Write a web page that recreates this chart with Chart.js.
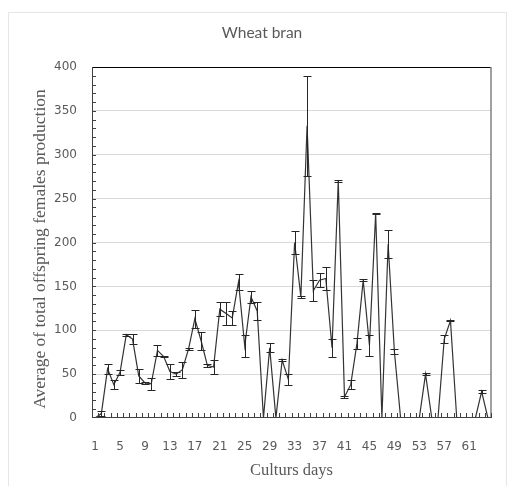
<!DOCTYPE html>
<html>
<head>
<meta charset="utf-8">
<script src="https://cdn.jsdelivr.net/npm/chart.js@4/dist/chart.umd.min.js"></script>
<style>
  html, body { margin: 0; padding: 0; background: #fff; }
</style>
</head>
<body>
<canvas id="chart" width="511" height="486"></canvas>
<script>
// culture days 1..64
const days = [1, 2, 3, 4, 5, 6, 7, 8, 9, 10, 11, 12, 13, 14, 15, 16,
  17, 18, 19, 20, 21, 22, 23, 24, 25, 26, 27, 28, 29, 30, 31, 32,
  33, 34, 35, 36, 37, 38, 39, 40, 41, 42, 43, 44, 45, 46, 47, 48,
  49, 50, 51, 52, 53, 54, 55, 56, 57, 58, 59, 60, 61, 62, 63, 64];

// mean offspring females per day
const offspring = [0, 5, 56, 38, 52, 95, 90, 48, 40, 39, 77, 70, 53, 50, 55, 79,
  113, 88, 60, 58, 124, 119, 114, 155, 82, 138, 122, 0, 80, 0, 66, 44,
  200, 138, 333, 145, 157, 159, 80, 270, 24, 38, 85, 157, 83, 233, 0, 198,
  76, 0, 0, 0, 0, 50, 0, 0, 90, 111, 0, 0, 0, 0, 30, 0];

// standard error (+/-)
const offspringErr = [0, 3, 6, 5, 3, 1, 6, 8, 1, 7, 6, 1, 9, 2, 9, 1,
  10, 10, 2, 8, 8, 13, 8, 9, 13, 7, 10, 0, 5, 0, 1, 6,
  13, 1, 57, 12, 8, 13, 10, 1, 1, 5, 6, 1, 12, 1, 0, 16,
  3, 0, 0, 0, 0, 1, 0, 0, 5, 1, 0, 0, 0, 0, 2, 0];

const xTickLabels = [1, 5, 9, 13, 17, 21, 25, 29, 33, 37, 41, 45, 49, 53, 57, 61];
const chartTitle = "Wheat bran";
const yTitle = "Average of total offspring females production";

// title, y title, outer box, axis frame and small tick marks (Excel style)
const frame = {
  id: "frame",
  beforeDraw(chart) {
    const ctx = chart.ctx;
    ctx.save();
    ctx.strokeStyle = "#e6e6e6";
    ctx.lineWidth = 1;
    ctx.strokeRect(8.5, 12.5, 498, 490);
    ctx.fillStyle = "#595959";
    ctx.font = "15.5px Lato";
    ctx.textAlign = "center";
    ctx.textBaseline = "middle";
    ctx.fillText(chartTitle, 262, 33);
    // rotated y axis title
    ctx.translate(40, 249);
    ctx.rotate(-Math.PI / 2);
    ctx.font = "17.5px 'Liberation Serif'";
    ctx.fillText(yTitle, 0, 0);
    ctx.restore();
  },
  afterDatasetsDraw(chart) {
    const { ctx, chartArea: a, scales: { x, y } } = chart;
    ctx.save();
    ctx.lineWidth = 1;
    // top border
    ctx.strokeStyle = "#000";
    ctx.beginPath();
    ctx.moveTo(a.left, Math.round(a.top) + 0.5);
    ctx.lineTo(a.right, Math.round(a.top) + 0.5);
    ctx.stroke();
    // right border
    ctx.strokeStyle = "#808080";
    ctx.lineWidth = 1.5;
    ctx.beginPath();
    ctx.moveTo(a.right, a.top);
    ctx.lineTo(a.right, a.bottom);
    ctx.stroke();
    // left and bottom axes
    ctx.strokeStyle = "#404040";
    ctx.lineWidth = 1;
    ctx.beginPath();
    ctx.moveTo(Math.round(a.left) + 0.5, a.top);
    ctx.lineTo(Math.round(a.left) + 0.5, a.bottom);
    ctx.moveTo(a.left, Math.round(a.bottom) - 0.5);
    ctx.lineTo(a.right, Math.round(a.bottom) - 0.5);
    ctx.stroke();
    // minor y ticks every 10
    ctx.beginPath();
    for (let v = 10; v < 400; v += 10) {
      const py = Math.round(y.getPixelForValue(v)) + 0.5;
      ctx.moveTo(a.left, py);
      ctx.lineTo(a.left + 4, py);
    }
    // x ticks between categories
    const step = x.getPixelForValue(1) - x.getPixelForValue(0);
    for (let i = 0; i <= days.length; i++) {
      const px = Math.round(x.getPixelForValue(i) - step / 2) + 0.5;
      ctx.moveTo(px, a.bottom);
      ctx.lineTo(px, a.bottom - 5);
    }
    ctx.stroke();
    ctx.restore();
  }
};

const errorBars = {
  id: "errorBars",
  afterDatasetsDraw(chart) {
    const { ctx, scales: { x, y } } = chart;
    ctx.save();
    ctx.strokeStyle = "#262626";
    ctx.lineWidth = 1;
    offspring.forEach((v, i) => {
      const e = offspringErr[i];
      if (!e) return;
      const px = Math.round(x.getPixelForValue(i)) + 0.5;
      const top = Math.round(y.getPixelForValue(v + e)) + 0.5;
      const bot = Math.round(y.getPixelForValue(Math.max(0, v - e))) + 0.5;
      ctx.beginPath();
      ctx.moveTo(px, top); ctx.lineTo(px, bot);
      ctx.moveTo(px - 4, top); ctx.lineTo(px + 4, top);
      ctx.moveTo(px - 4, bot); ctx.lineTo(px + 4, bot);
      ctx.stroke();
    });
    ctx.restore();
  }
};

new Chart(document.getElementById("chart"), {
  type: "line",
  data: {
    labels: days,
    datasets: [{
      data: offspring,
      borderColor: "#333",
      borderWidth: 1.2,
      pointRadius: 0,
      tension: 0,
      fill: false
    }]
  },
  options: {
    responsive: false,
    animation: false,
    layout: { padding: { left: 8, right: 20, top: 67, bottom: 0 } },
    plugins: {
      legend: { display: false },
      title: { display: false },
      tooltip: { enabled: false }
    },
    scales: {
      x: {
        type: "category",
        offset: true,
        grid: { display: false, drawTicks: false },
        border: { display: false },
        ticks: {
          autoSkip: false,
          maxRotation: 0,
          padding: 22,
          color: "#595959",
          font: { family: "DejaVu Sans", size: 12 },
          callback: (val, i) => xTickLabels.includes(days[i]) ? String(days[i]) : ""
        },
        title: {
          display: true,
          text: "Culturs days",
          color: "#595959",
          font: { family: "Liberation Serif", size: 16.5 },
          padding: { top: 0, bottom: 5 }
        },
        afterFit: s => { s.height = 68; }
      },
      y: {
        min: 0,
        max: 400,
        ticks: {
          stepSize: 50,
          padding: 15,
          color: "#595959",
          font: { family: "DejaVu Sans", size: 12 }
        },
        grid: {
          color: c => (c.tick.value === 0 || c.tick.value === 400) ? "rgba(0,0,0,0)" : "#d9d9d9",
          drawTicks: false
        },
        border: { display: false },
        afterFit: s => { s.width = 84; }
      }
    }
  },
  plugins: [frame, errorBars]
});
</script>
</body>
</html>
